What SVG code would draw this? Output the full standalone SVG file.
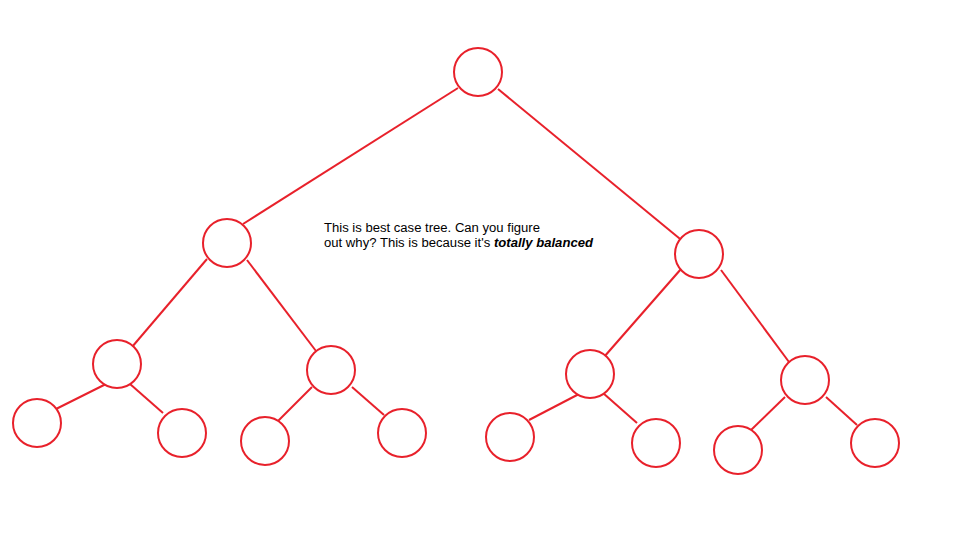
<svg xmlns="http://www.w3.org/2000/svg" width="957" height="545" viewBox="0 0 957 545">
<style>
.n{fill:#fff;stroke:#e8212b;stroke-width:2}
.e{stroke:#e8212b;stroke-width:2;fill:none}
.t{font-family:"Liberation Sans",Arial,sans-serif;font-size:12.5px;fill:#000}
</style>
<rect width="957" height="545" fill="#fff"/>
<g id="connectors">
<line class="e" x1="458" y1="88" x2="243" y2="224"/>
<line class="e" x1="498" y1="89" x2="685" y2="243"/>
<line class="e" x1="207" y1="259" x2="132" y2="347"/>
<line class="e" x1="247" y1="260" x2="316" y2="351"/>
<line class="e" x1="681" y1="269" x2="604" y2="357"/>
<line class="e" x1="721" y1="270" x2="789" y2="362"/>
<line class="e" x1="106" y1="384" x2="56" y2="409"/>
<line class="e" x1="130" y1="384" x2="163" y2="413"/>
<line class="e" x1="312" y1="387" x2="277" y2="422"/>
<line class="e" x1="352" y1="387" x2="384" y2="415"/>
<line class="e" x1="579" y1="394" x2="529" y2="420"/>
<line class="e" x1="603" y1="393" x2="637" y2="423"/>
<line class="e" x1="785" y1="397" x2="749" y2="432"/>
<line class="e" x1="826" y1="397" x2="857" y2="425"/>
</g>
<g id="root"><circle class="n" cx="478" cy="72" r="24"/></g>
<g id="L"><circle class="n" cx="227" cy="243" r="24"/></g>
<g id="R"><circle class="n" cx="699" cy="254" r="24"/></g>
<g id="LL"><circle class="n" cx="117" cy="364" r="24"/></g>
<g id="LR"><circle class="n" cx="331" cy="370" r="24"/></g>
<g id="RL"><circle class="n" cx="590" cy="374" r="24"/></g>
<g id="RR"><circle class="n" cx="805" cy="380" r="24"/></g>
<g id="LLL"><circle class="n" cx="37" cy="423" r="24"/></g>
<g id="LLR"><circle class="n" cx="182" cy="433" r="24"/></g>
<g id="LRL"><circle class="n" cx="265" cy="441" r="24"/></g>
<g id="LRR"><circle class="n" cx="402" cy="433" r="24"/></g>
<g id="RLL"><circle class="n" cx="510" cy="437" r="24"/></g>
<g id="RLR"><circle class="n" cx="656" cy="443" r="24"/></g>
<g id="RRL"><circle class="n" cx="738" cy="450" r="24"/></g>
<g id="RRR"><circle class="n" cx="875" cy="443" r="24"/></g>
<g id="caption">
<text class="t" x="324" y="232" textLength="216" lengthAdjust="spacingAndGlyphs">This is best case tree. Can you figure</text>
<text class="t" x="324" y="247" textLength="269" lengthAdjust="spacingAndGlyphs">out why? This is because it's <tspan font-weight="bold" font-style="italic">totally balanced</tspan></text>
</g>
</svg>
